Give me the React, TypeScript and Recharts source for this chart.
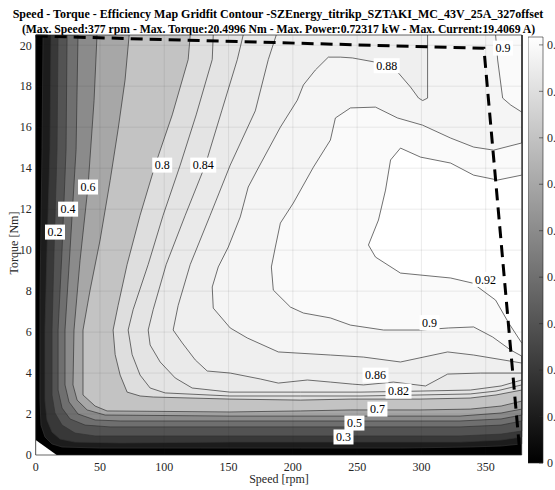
import React from 'react';
import { ComposedChart, Scatter, XAxis, YAxis, BarChart, Bar } from 'recharts';

const SERIF = "'Liberation Serif', 'Times New Roman', serif";
const SPEED_MAX = 378;
const TORQUE_MAX = 20.5;
const EFF_MAX = 0.917;

const speedTicks = [0, 50, 100, 150, 200, 250, 300, 350];
const torqueTicks = [0, 2, 4, 6, 8, 10, 12, 14, 16, 18, 20];
const colorbarTicks = [0, 0.1, 0.2, 0.3, 0.4, 0.5, 0.6, 0.7, 0.8, 0.9];

type Pair = [number, number];

// contour lines (speed rpm, torque Nm), each from one edge of the map to another
const contour01: Pair[] = [[5.7,20.5],[4.9,14.9],[3.3,7.6],[3.3,2.7],[4.1,1.46],[7.2,0.88],[12.7,0.54],[20.5,0.39],[50,0.34],[128,0.34],[206,0.34],[284,0.34],[338,0.39],[362,0.44],[378,0.54]];
const contour02: Pair[] = [[11.9,20.5],[11.1,14.9],[8.8,10.0],[7.2,6.1],[7.2,2.7],[8.8,1.71],[12.7,1.12],[18.9,0.78],[30.6,0.63],[65.7,0.59],[151,0.63],[245,0.63],[330,0.63],[362,0.73],[378,0.88]];
const contour03: Pair[] = [[17.4,20.5],[16.6,14.9],[14.3,10.0],[12.7,6.1],[12.7,2.93],[15.0,2.05],[20.5,1.46],[30.6,1.07],[46.2,0.93],[151,0.93],[245,0.93],[330,0.93],[362,1.02],[378,1.17]];
const contour04: Pair[] = [[24.4,20.5],[23.6,14.9],[20.5,10.0],[17.4,6.1],[17.4,3.17],[20.5,2.29],[26.7,1.76],[38.4,1.46],[57.9,1.37],[151,1.37],[245,1.37],[330,1.37],[362,1.46],[378,1.66]];
const contour05: Pair[] = [[32.9,20.5],[31.4,14.9],[26.7,10.0],[22.8,6.1],[22.8,3.42],[25.9,2.59],[32.9,2.0],[46.2,1.71],[65.7,1.66],[151,1.66],[245,1.66],[330,1.66],[362,1.76],[378,1.95]];
const contour06: Pair[] = [[47.7,20.5],[45.4,17.3],[40.7,13.1],[34.5,9.5],[29.8,6.1],[29.0,3.42],[32.2,2.68],[40.0,2.2],[54.0,1.95],[151,1.9],[245,1.9],[330,1.9],[362,2.05],[378,2.24]];
const contour07: Pair[] = [[72.7,20.5],[69.5,18.3],[64.1,15.9],[57.9,13.4],[50.1,10.5],[42.3,8.05],[36.8,6.1],[36.8,2.93],[46.2,2.39],[55.5,2.15],[151,2.1],[206,2.15],[245,2.2],[299,2.2],[338,2.24],[362,2.39],[378,2.63]];
const contour08: Pair[] = [[120.2,20.5],[118.6,19.3],[106.2,16.6],[92.9,14.15],[81.2,11.7],[71.1,9.3],[64.1,7.3],[60.2,6.1],[61.8,4.9],[65.7,3.9],[71.1,3.07],[81.2,2.88],[91.4,2.83],[151,2.73],[206,2.68],[245,2.73],[299,2.73],[338,2.78],[358,2.93],[378,3.17]];
const contour082: Pair[] = [[138.1,20.5],[137.3,19.3],[124.8,16.6],[112.4,14.15],[99.1,11.7],[87.5,9.3],[75.8,7.1],[71.9,6.1],[75.0,4.9],[81.2,3.9],[89.0,3.27],[100.7,3.03],[151,2.88],[206,2.88],[253,2.88],[299,2.93],[338,2.98],[358,3.12],[378,3.42]];
const contour084: Pair[] = [[161.4,20.5],[156.8,19.3],[144.7,16.8],[131.9,14.15],[116.3,11.7],[101.5,9.3],[91.4,7.1],[87.5,6.1],[89.0,5.37],[96.8,4.54],[108.5,3.76],[121.7,3.27],[151,3.07],[206,3.07],[253,3.07],[299,3.12],[338,3.17],[362,3.37],[378,3.66]];
const contour086: Pair[] = [[187.1,20.5],[180.9,19.3],[170.8,16.8],[151.3,14.15],[135.7,11.7],[120.2,9.3],[110.8,7.3],[106.9,6.1],[114.0,5.47],[124.1,4.64],[133.4,4.1],[151.3,4.0],[174.7,3.71],[188.7,3.51],[211.3,3.66],[229.2,3.56],[246.3,3.46],[254.9,3.42],[278.3,3.56],[303.2,3.37],[320.4,3.95],[346,4.0],[378,4.0]];
const contour088: Pair[] = [[304.8,20.5],[304.8,17.42],[301,17.3],[297.8,17.42],[291.5,17.96],[282.2,18.64],[268.2,19.13],[246.3,19.38],[237,19.42],[227.6,19.42],[217.5,18.79],[208.2,18.06],[203.5,17.32],[190.3,16.0],[172.3,13.91],[165.3,13.08],[159.1,11.62],[149.8,10.15],[142,9.18],[137.3,8.2],[138.1,7.17],[151.3,6.2],[164.6,5.71],[188.7,5.03],[229.2,4.88],[254.9,4.78],[283.7,4.54],[320.4,5.03],[340.6,4.88],[378,4.49]];
const contour09: Pair[] = [[378,15.23],[356.2,14.88],[340.6,15.03],[322.7,15.47],[300.9,16.1],[281.4,16.45],[264.3,16.98],[244.8,16.94],[233.1,16.45],[229.2,15.37],[216,14.05],[200.4,12.3],[190.3,11.32],[186.4,10.15],[183.3,9.18],[184.8,8.05],[198.1,7.22],[208.2,6.93],[229.2,6.69],[244.8,6.34],[270.5,6.1],[299.3,6.1],[321.1,6.2],[340.6,6.25],[355.4,5.76],[369.5,5.12],[378,4.83]];
const contour09corner: Pair[] = [[357.7,20.5],[359.3,19.28],[363.2,17.42],[369.5,17.08],[378,16.74]];
const contour092: Pair[] = [[378,13.66],[359.3,13.42],[340.6,13.66],[322.7,14.25],[299.3,14.54],[283.7,14.98],[276,14.4],[272.1,12.93],[266.6,11.47],[258.8,10.25],[264.3,9.66],[283.7,8.88],[322.7,8.64],[339.8,8.39],[357.7,7.56],[367.9,6.44],[378,5.47]];

const maxTorqueCurve: Pair[] = [[0,20.45],[348.6,19.85],[376.5,0.15]];
const noDataCorner: Pair[] = [[0,0],[0,0.73],[16.3,0]];

const contourLabels = [
  { s: 15.0, t: 10.88, text: '0.2' },
  { s: 25.2, t: 12.0, text: '0.4' },
  { s: 40.7, t: 13.08, text: '0.6' },
  { s: 98.4, t: 14.15, text: '0.8' },
  { s: 130.3, t: 14.15, text: '0.84' },
  { s: 273.0, t: 19.0, text: '0.88' },
  { s: 363.5, t: 19.86, text: '0.9' },
  { s: 349.9, t: 8.57, text: '0.92' },
  { s: 306.3, t: 6.46, text: '0.9' },
  { s: 264.3, t: 3.9, text: '0.86' },
  { s: 282.2, t: 3.12, text: '0.82' },
  { s: 265.8, t: 2.24, text: '0.7' },
  { s: 247.9, t: 1.56, text: '0.5' },
  { s: 239.4, t: 0.88, text: '0.3' },
];

const toPts = (arr: Pair[]) => arr.map(([s, t]) => ({ s, t }));
const topRight: Pair = [SPEED_MAX, TORQUE_MAX];

const regions = [
  { level: 0.1, pts: [...contour01, topRight] },
  { level: 0.2, pts: [...contour02, topRight] },
  { level: 0.3, pts: [...contour03, topRight] },
  { level: 0.4, pts: [...contour04, topRight] },
  { level: 0.5, pts: [...contour05, topRight] },
  { level: 0.6, pts: [...contour06, topRight] },
  { level: 0.7, pts: [...contour07, topRight] },
  { level: 0.8, pts: [...contour08, topRight] },
  { level: 0.82, pts: [...contour082, topRight] },
  { level: 0.84, pts: [...contour084, topRight] },
  { level: 0.86, pts: [...contour086, topRight] },
  { level: 0.88, pts: [...contour088, topRight] },
  { level: 0.9, pts: [...contour09corner, topRight] },
  { level: 0.9, pts: contour09 },
  { level: 0.92, pts: contour092 },
];

const gray = (v: number) => {
  const g = Math.round(255 * Math.min(1, Math.max(0, v / EFF_MAX)));
  return `rgb(${g},${g},${g})`;
};

const Empty = () => <g />;

const ContourLabel = (props: any) => {
  const { cx, cy, payload } = props;
  if (cx == null || cy == null || !payload) return <g />;
  const text: string = payload.text;
  const w = text.split('').reduce((a: number, ch: string) => a + (ch === '.' ? 3 : 6), 0) + 5;
  return (
    <g>
      <rect x={cx - w / 2} y={cy - 7.5} width={w} height={15} fill="#ffffff" />
      <text x={cx} y={cy} dy="0.35em" textAnchor="middle" fontFamily={SERIF} fontSize={12} fill="#000">
        {text}
      </text>
    </g>
  );
};

const ColorbarTick = (props: any) => {
  const { x, y, payload } = props;
  const v = payload.value as number;
  return (
    <g>
      <line x1={x - 8} x2={x - 4} y1={y} y2={y} stroke="#262626" strokeWidth={0.6} />
      <text x={x} y={y} dy="0.35em" textAnchor="start" fontFamily={SERIF} fontSize={12} fill="#262626">
        {v === 0 ? '0' : v.toFixed(1)}
      </text>
    </g>
  );
};

const tickStyle = { fontFamily: SERIF, fontSize: 12, fill: '#262626' };
const colorbarData = [{ name: 'efficiency', v: EFF_MAX }];

export default function App() {
  const base: Pair[] = [[0, 0], [0, TORQUE_MAX], [SPEED_MAX, TORQUE_MAX], [SPEED_MAX, 0]];
  const box: Pair[] = [[0, 0], [0, TORQUE_MAX], [SPEED_MAX, TORQUE_MAX], [SPEED_MAX, 0], [0, 0]];
  return (
    <div style={{ position: 'relative', width: 555, height: 490, overflow: 'hidden', background: '#fff' }}>
      <style>{'body{margin:0;overflow:hidden;background:#fff}'}</style>
      <div style={{ position: 'absolute', left: 0, top: 7, width: 556, textAlign: 'center', fontFamily: SERIF, fontWeight: 'bold', fontSize: 12, lineHeight: '14px', whiteSpace: 'nowrap', color: '#000' }}>
        Speed - Torque - Efficiency Map Gridfit Contour -SZEnergy_titrikp_SZTAKI_MC_43V_25A_327offset
      </div>
      <div style={{ position: 'absolute', left: 0, top: 23, width: 557, textAlign: 'center', fontFamily: SERIF, fontWeight: 'bold', fontSize: 11.7, lineHeight: '14px', whiteSpace: 'nowrap', color: '#000' }}>
        (Max. Speed:377 rpm - Max. Torque:20.4996 Nm - Max. Power:0.72317 kW - Max. Current:19.4069 A)
      </div>
      <div style={{ position: 'absolute', left: 0, top: 0 }}>
        <ComposedChart width={555} height={490} margin={{ top: 35, right: 33.3, bottom: 5, left: 5.7 }}>
          <XAxis type="number" dataKey="s" domain={[0, SPEED_MAX]} ticks={speedTicks} interval={0} height={30} tickLine={false} tickSize={0} tickMargin={7} axisLine={false} tick={tickStyle} />
          <YAxis type="number" dataKey="t" domain={[0, TORQUE_MAX]} ticks={torqueTicks} interval={0} width={30} tickLine={false} tickSize={0} tickMargin={4} axisLine={false} tick={tickStyle} />
          <Scatter data={toPts(base)} shape={Empty} line={{ fill: '#000', stroke: 'none' }} isAnimationActive={false} />
          {regions.map((r, i) => (
            <Scatter key={'r' + i} data={toPts(r.pts)} shape={Empty} line={{ fill: gray(r.level), stroke: '#333333', strokeWidth: 0.7 }} isAnimationActive={false} />
          ))}
          <Scatter data={toPts(noDataCorner)} shape={Empty} line={{ fill: '#fff', stroke: 'none' }} isAnimationActive={false} />
          {speedTicks.filter((v) => v > 0).map((v) => (
            <Scatter key={'gx' + v} data={toPts([[v, 0], [v, TORQUE_MAX]])} shape={Empty} line={{ stroke: '#262626', strokeOpacity: 0.15, strokeWidth: 0.6, fill: 'none' }} isAnimationActive={false} />
          ))}
          {torqueTicks.filter((v) => v > 0).map((v) => (
            <Scatter key={'gy' + v} data={toPts([[0, v], [SPEED_MAX, v]])} shape={Empty} line={{ stroke: '#262626', strokeOpacity: 0.15, strokeWidth: 0.6, fill: 'none' }} isAnimationActive={false} />
          ))}
          <Scatter data={toPts(maxTorqueCurve)} shape={Empty} line={{ stroke: '#000', strokeWidth: 3, strokeDasharray: '12 7', fill: 'none' }} isAnimationActive={false} />
          <Scatter data={contourLabels} shape={ContourLabel} isAnimationActive={false} />
          <Scatter data={toPts(box)} shape={Empty} line={{ stroke: '#262626', strokeWidth: 0.7, fill: 'none' }} isAnimationActive={false} />
        </ComposedChart>
      </div>
      <div style={{ position: 'absolute', left: 0, top: 472, width: 558, textAlign: 'center', fontFamily: SERIF, fontSize: 12, lineHeight: '14px', color: '#262626' }}>
        Speed [rpm]
      </div>
      <div style={{ position: 'absolute', left: -26, top: 236, width: 80, height: 14, textAlign: 'center', fontFamily: SERIF, fontSize: 12, lineHeight: '14px', color: '#262626', transform: 'rotate(-90deg)', transformOrigin: '40px 7px' }}>
        Torque [Nm]
      </div>
      <div style={{ position: 'absolute', left: 528, top: 27 }}>
        <BarChart width={50} height={446} data={colorbarData} margin={{ top: 10, right: 0, bottom: 10, left: 0 }} barCategoryGap={0}>
          <defs>
            <linearGradient id="cbGrad" x1="0" y1="0" x2="0" y2="1">
              <stop offset="0%" stopColor="#ffffff" />
              <stop offset="100%" stopColor="#000000" />
            </linearGradient>
          </defs>
          <XAxis dataKey="name" hide />
          <YAxis orientation="right" type="number" domain={[0, EFF_MAX]} ticks={colorbarTicks} interval={0} width={35} tickLine={false} tickSize={0} tickMargin={4} axisLine={false} tick={<ColorbarTick />} />
          <Bar dataKey="v" fill="url(#cbGrad)" stroke="#262626" strokeWidth={0.6} isAnimationActive={false} />
        </BarChart>
      </div>
    </div>
  );
}
